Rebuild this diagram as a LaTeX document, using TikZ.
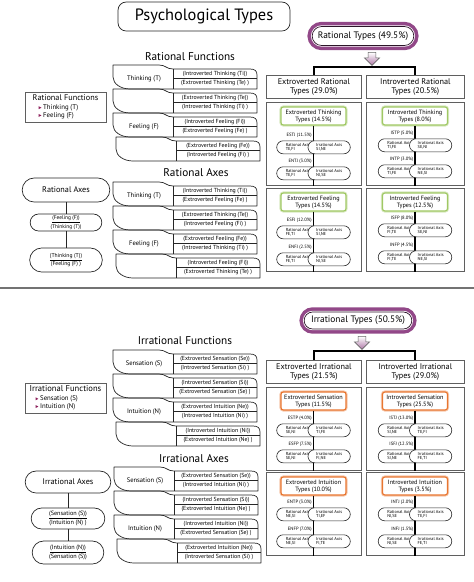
\documentclass[tikz,border=0pt]{standalone}
\usepackage{fontspec}
\setmainfont{PT Sans}
\usetikzlibrary{positioning,shapes.misc,shapes.arrows,shadows}
\definecolor{typepurple}{RGB}{146,72,136}
\definecolor{glowgreen}{RGB}{160,200,100}
\definecolor{gloworange}{RGB}{232,118,48}
\definecolor{bulletcol}{RGB}{140,30,90}
\definecolor{boxgray}{RGB}{95,95,95}
\newcommand{\pu}{0.03cm}
\newcommand{\tribullet}{\tikz[baseline=-0.6ex]\fill[bulletcol] (0pt,-1.3pt) -- (2.4pt,0pt) -- (0pt,1.3pt) -- cycle;}
\tikzset{
  rowline/.style={draw=black!85, line width=0.6pt, line join=round},
  rowlabel/.style={font=\fontsize{5.6}{6}\selectfont, inner sep=0pt},
  celltext/.style={font=\fontsize{5}{5.5}\selectfont, inner sep=0pt},
  heading/.style={font=\fontsize{9.6}{11}\selectfont, inner sep=0pt},
  titlebox/.style={draw=black!85, line width=0.6pt, rounded corners=7pt,
    minimum width=172*\pu, minimum height=29*\pu, font=\fontsize{14}{16}\selectfont},
  listbox/.style={draw=boxgray, line width=0.6pt, align=left, inner sep=1pt,
    minimum width=81*\pu, minimum height=30*\pu, font=\fontsize{5.8}{6.6}\selectfont},
  axisbox/.style={rounded rectangle, draw=black!85, line width=0.6pt, align=center, inner sep=1pt},
  typesbox/.style={rounded rectangle, fill=white, draw=black!70!typepurple, line width=0.6pt,
    drop shadow={opacity=0.3, shadow xshift=1.2pt, shadow yshift=-1.2pt},
    preaction={draw=typepurple, line width=8pt},
    preaction={draw=white, line width=2pt},
    inner xsep=1pt, font=\fontsize{8}{9}\selectfont},
  downarrow/.style={single arrow, shape border rotate=270, draw=black!60, line width=0.5pt,
    top color=white, bottom color=typepurple!75, inner sep=3pt,
    minimum height=13*\pu, single arrow head extend=3.2pt},
  bracket/.style={draw=black, line width=1.6pt},
  groupbox/.style={draw=boxgray, line width=0.6pt, anchor=north west, align=center,
    minimum height=23*\pu, inner sep=0pt, font=\fontsize{7}{8}\selectfont},
  panelbox/.style={draw=boxgray, line width=0.6pt, anchor=north west, minimum height=83*\pu},
  panelhead/.style={fill=white, line width=1pt, rounded corners=2pt, align=center,
    minimum width=65*\pu, minimum height=18*\pu, inner sep=0.5pt, font=\fontsize{5.3}{6}\selectfont},
  stem/.style={draw=black, line width=0.9pt},
  typelabel/.style={font=\fontsize{4}{4.5}\selectfont, inner sep=0pt},
  axisnode/.style={rounded rectangle, fill=white, draw=black!85, line width=0.5pt, align=left,
    minimum width=43*\pu, minimum height=13*\pu, inner sep=0.3pt, font=\fontsize{3.7}{4.2}\selectfont},
  sepline/.style={draw=black!55, line width=1.5pt}
}
% one function row: name, left x, top y, label, upper cell, lower cell
\newcommand{\funcrow}[6]{%
  \begin{scope}[shift={(#2,#3)}]
    \draw[rowline] (0,0) -- (46,0) .. controls (53,0) and (53,4) .. (60,4)
      -- (137,4) .. controls (142,4) and (144,6) .. (144,10) -- (144,24) -- (17,24)
      .. controls (8,24) and (0,19) .. (0,12) -- cycle;
    \draw[rowline] (60,4) -- (60,24);
    \draw[rowline] (60,13.5) -- (144,13.5);
    \node[rowlabel] (#1l) at (31,14) {#4};
    \node[celltext] (#1u) at (102,8.6) {#5};
    \node[celltext] (#1d) at (102,18.4) {#6};
  \end{scope}}
% one panel: name, x, y, width, glow colour, header
\newcommand{\typepanel}[6]{%
  \node[panelbox, minimum width=#4*\pu] (#1) at (#2,#3) {};
  \node[panelhead, draw=#5, preaction={draw=#5!40, line width=2.6pt}] (#1h) at (#2+#4/2,#3+14) {#6};
  \draw[stem] (#1h.south) -- (#1h.south |- #1.south);}
% one type: name, stem x, label y, type, rational axis, irrational axis
\newcommand{\typerow}[6]{%
  \node[typelabel, anchor=east] (#1t) at (#2-1.5,#3) {#4};
  \node[axisnode, anchor=north east] (#1r) at (#2-1,#3+5.5) {Rational Axis\\#5};
  \node[axisnode, anchor=north west] (#1i) at (#2+1,#3+5.5) {Irrational Axis\\#6};}

\begin{document}
\begin{tikzpicture}[x=0.03cm, y=-0.03cm]
\useasboundingbox (0,0) rectangle (474,582);

\node[titlebox] (title) at (204,16.5) {Psychological Types};

% rational half
\node[heading] (rfhead) at (190,57) {Rational Functions};
\funcrow{rf1}{113}{65}{Thinking (T)}{(Introverted Thinking (Ti))}{(Extroverted Thinking (Te) )}
\funcrow{rf2}{113}{89}{}{(Extroverted Thinking (Te))}{(Introverted Thinking (Ti) )}
\funcrow{rf3}{113}{113}{Feeling (F)}{(Introverted Feeling (Fi))}{(Extroverted Feeling (Fe) )}
\funcrow{rf4}{116}{137}{}{(Extroverted Feeling (Fe))}{(Introverted Feeling (Fi) )}

\node[heading] (rahead) at (196,173) {Rational Axes};
\funcrow{ra1}{113}{182}{Thinking (T)}{(Introverted Thinking (Ti))}{(Extroverted Feeling (Fe) )}
\funcrow{ra2}{113}{206}{}{(Extroverted Thinking (Te))}{(Introverted Feeling (Fi) )}
\funcrow{ra3}{113}{230}{Feeling (F)}{(Extroverted Feeling (Fe))}{(Introverted Thinking (Ti) )}
\funcrow{ra4}{116}{254}{}{(Introverted Feeling (Fi))}{(Extroverted Thinking (Te) )}

\node[listbox] (rflist) at (65.5,107) {{\fontsize{7}{8}\selectfont Rational Functions}\\[1pt]
  \hspace*{5pt}\tribullet\ Thinking (T)\\ \hspace*{5pt}\tribullet\ Feeling (F)};

\node[axisbox, minimum width=90*\pu, minimum height=24*\pu, font=\fontsize{7}{8}\selectfont] (raxes) at (66,190) {Rational Axes};
\node[axisbox, minimum width=74*\pu, minimum height=17*\pu, font=\fontsize{4.6}{5}\selectfont] (rax1) at (66,222.5) {\underline{(Feeling (F))}\\(Thinking (T))};
\node[axisbox, minimum width=75*\pu, minimum height=24*\pu, font=\fontsize{4.8}{5.4}\selectfont] (rax2) at (66,260) {\underline{(Thinking (T))}\\(Feeling (F) )};
\draw[rowline] (raxes.south) -- (rax1.north);
\draw[rowline] (rax1.south) -- (rax2.north);

\node[typesbox, minimum width=104*\pu, minimum height=19*\pu] (rtypes) at (363,36) {Rational Types (49.5\%)};
\node[downarrow] (rarrow) at (372,57) {};
\node[groupbox, minimum width=95*\pu] (reg) at (266,75) {Extroverted Rational\\Types (29.0\%)};
\node[groupbox, minimum width=98*\pu] (rig) at (366,75) {Introverted Rational\\Types (20.5\%)};
\draw[bracket] (reg.north) -- ++(0,-8) -| (rig.north);

\typepanel{etp}{266}{102}{95}{glowgreen}{Extroverted Thinking\\Types (14.5\%)}
\typerow{estj}{313.5}{135}{ESTJ (11.5\%)}{TE,FI}{SI,NE}
\typerow{entj}{313.5}{161}{ENTJ (3.0\%)}{TE,FI}{NI,SE}
\typepanel{itp}{366}{102}{98}{glowgreen}{Introverted Thinking\\Types (8.0\%)}
\typerow{istp}{415}{133}{ISTP (5.0\%)}{TI,FE}{SE,NI}
\typerow{intp}{415}{159}{INTP (3.0\%)}{TI,FE}{NE,SI}
\typepanel{efp}{266}{188}{95}{glowgreen}{Extroverted Feeling\\Types (14.5\%)}
\typerow{esfj}{313.5}{220}{ESFJ (12.0\%)}{FE,TI}{SI,NE}
\typerow{enfj}{313.5}{247}{ENFJ (2.5\%)}{FE,TI}{NI,SE}
\typepanel{ifp}{366}{188}{98}{glowgreen}{Introverted Feeling\\Types (12.5\%)}
\typerow{isfp}{415}{218}{ISFP (8.0\%)}{FI,TE}{SE,NI}
\typerow{infp}{415}{245}{INFP (4.5\%)}{FI,TE}{NE,SI}

\draw[sepline] (0,288) -- (474,288);

% irrational half
\node[heading] (ifhead) at (185,341) {Irrational Functions};
\funcrow{if1}{113}{350}{Sensation (S)}{(Extroverted Sensation (Se))}{(Introverted Sensation (Si) )}
\funcrow{if2}{113}{374}{}{(Introverted Sensation (Si))}{(Extroverted Sensation (Se) )}
\funcrow{if3}{113}{398}{Intuition (N)}{(Extroverted Intuition (Ne))}{(Introverted Intuition (Ni) )}
\funcrow{if4}{116}{422}{}{(Introverted Intuition (Ni))}{(Extroverted Intuition (Ne) )}

\node[heading] (iahead) at (194,459) {Irrational Axes};
\funcrow{ia1}{114}{467}{Sensation (S)}{(Extroverted Sensation (Se))}{(Introverted Intuition (Ni) )}
\funcrow{ia2}{114}{491}{}{(Introverted Sensation (Si))}{(Extroverted Intuition (Ne) )}
\funcrow{ia3}{114}{515}{Intuition (N)}{(Introverted Intuition (Ni))}{(Extroverted Sensation (Se) )}
\funcrow{ia4}{117}{539}{}{(Extroverted Intuition (Ne))}{(Introverted Sensation (Si) )}

\node[listbox] (iflist) at (65.5,398) {{\fontsize{7.3}{8}\selectfont Irrational Functions}\\[1pt]
  \hspace*{5pt}\tribullet\ Sensation (S)\\ \hspace*{5pt}\tribullet\ Intuition (N)};

\node[axisbox, minimum width=88*\pu, minimum height=22*\pu, font=\fontsize{7}{8}\selectfont] (iaxes) at (68,482) {Irrational Axes};
\node[axisbox, minimum width=76*\pu, minimum height=21*\pu, font=\fontsize{5.3}{6}\selectfont] (iax1) at (68,518.5) {\underline{(Sensation (S))}\\(Intuition (N) )};
\node[axisbox, minimum width=74*\pu, minimum height=23*\pu, font=\fontsize{5.3}{6}\selectfont] (iax2) at (68,552.5) {\underline{(Intuition (N))}\\(Sensation (S))};
\draw[rowline] (iaxes.south) -- (iax1.north);
\draw[rowline] (iax1.south) -- (iax2.north);

\node[typesbox, minimum width=110*\pu, minimum height=17*\pu] (itypes) at (358,320.5) {Irrational Types (50.5\%)};
\node[downarrow] (iarrow) at (362,341) {};
\node[groupbox, minimum width=95*\pu] (ieg) at (266,360) {Extroverted Irrational\\Types (21.5\%)};
\node[groupbox, minimum width=98*\pu] (iig) at (366,360) {Introverted Irrational\\Types (29.0\%)};
\draw[bracket] (ieg.north) -- ++(0,-9) -| (iig.north);

\typepanel{esp}{266}{387}{95}{gloworange}{Extroverted Sensation\\Types (11.5\%)}
\typerow{estp}{313.5}{418}{ESTP (4.0\%)}{SE,NI}{TI,FE}
\typerow{esfp}{313.5}{444}{ESFP (7.5\%)}{SE,NI}{FI,NE}
\typepanel{isp}{366}{387}{98}{gloworange}{Introverted Sensation\\Types (25.5\%)}
\typerow{istj}{415}{418}{ISTJ (13.0\%)}{SI,NE}{TE,FI}
\typerow{isfj}{415}{444}{ISFJ (12.5\%)}{SI,NE}{FE,TI}
\typepanel{enp}{266}{472}{95}{gloworange}{Extroverted Intuition\\Types (10.0\%)}
\typerow{entp}{313.5}{502}{ENTP (3.0\%)}{NE,SI}{TI,EF}
\typerow{enfp}{313.5}{529}{ENFP (7.0\%)}{NE,SI}{FI,TE}
\typepanel{inp}{366}{472}{98}{gloworange}{Introverted Intuition\\Types (3.5\%)}
\typerow{intj}{415}{502}{INTJ (2.0\%)}{NI,SE}{TE,FI}
\typerow{infj}{415}{529}{INFJ (1.5\%)}{NI,SE}{FE,TI}
\end{tikzpicture}
\end{document}
